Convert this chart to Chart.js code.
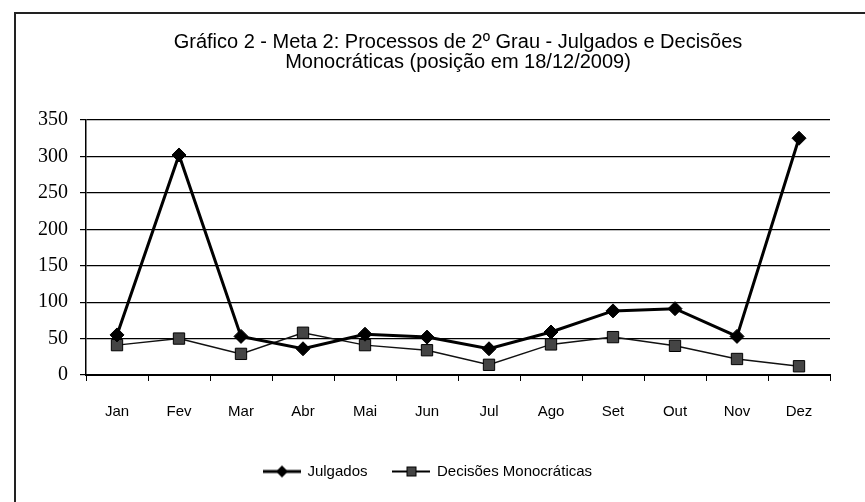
<!DOCTYPE html>
<html>
<head>
<meta charset="utf-8">
<script src="https://cdn.jsdelivr.net/npm/chart.js@4"></script>
<style>
  html, body { margin: 0; padding: 0; background: #fff; }
  #wrap { position: relative; width: 865px; height: 502px; overflow: hidden; }
  #frame { position: absolute; left: 14px; top: 12px; width: 900px; height: 600px;
           border-left: 2px solid #222; border-top: 2px solid #222; }
  canvas { position: absolute; left: 0; top: 0; }
</style>
</head>
<body>
<div id="wrap">
  <div id="frame"></div>
  <canvas id="chart" width="865" height="502"></canvas>
</div>
<script>
// Dados
const meses = ['Jan', 'Fev', 'Mar', 'Abr', 'Mai', 'Jun', 'Jul', 'Ago', 'Set', 'Out', 'Nov', 'Dez'];
const julgados = [55, 302, 53, 36, 56, 52, 36, 59, 88, 91, 53, 325];
const monocraticas = [41, 50, 29, 58, 41, 34, 14, 42, 52, 40, 22, 12];
const yTicks = [0, 50, 100, 150, 200, 250, 300, 350];

// icones da legenda: linha com marcador no meio
function legendIcon(kind) {
    const c = document.createElement('canvas');
    c.width = 38;
    c.height = 14;
    const g = c.getContext('2d');
    g.strokeStyle = '#000';
    g.lineWidth = kind === 'diamond' ? 3 : 2;
    g.beginPath();
    g.moveTo(0, 7);
    g.lineTo(38, 7);
    g.stroke();
    if (kind === 'diamond') {
        g.fillStyle = '#000';
        g.beginPath();
        g.moveTo(19, 1);
        g.lineTo(25, 7);
        g.lineTo(19, 13);
        g.lineTo(13, 7);
        g.closePath();
        g.fill();
    } else {
        g.fillStyle = '#444';
        g.fillRect(14, 2, 10, 10);
        g.strokeStyle = '#000';
        g.lineWidth = 1;
        g.strokeRect(14.5, 2.5, 9, 9);
    }
    return c;
}

const icons = [legendIcon('diamond'), legendIcon('square')];

new Chart(document.getElementById('chart'), {
    type: 'line',
    data: {
        labels: meses,
        datasets: [{
            label: 'Julgados',
            data: julgados,
            borderColor: '#000',
            backgroundColor: '#000',
            borderWidth: 3,
            pointStyle: 'rectRot',
            pointRadius: 7,
            pointBorderWidth: 1,
            tension: 0
        }, {
            label: 'Decisões Monocráticas',
            data: monocraticas,
            borderColor: '#111',
            backgroundColor: '#444',
            pointBorderColor: '#000',
            borderWidth: 1.5,
            pointStyle: 'rect',
            pointRadius: 8,
            pointBorderWidth: 1,
            tension: 0
        }]
    },
    options: {
        responsive: false,
        animation: false,
        layout: {
            padding: { top: 14, left: 26, right: 35, bottom: 13 }
        },
        plugins: {
            title: {
                display: true,
                fullSize: false,
                text: ['Gráfico 2 - Meta 2: Processos de 2º Grau - Julgados e Decisões',
                       'Monocráticas (posição em 18/12/2009)'],
                color: '#000',
                font: { family: '"Liberation Sans", Arial', size: 20, weight: 'normal', lineHeight: 1.0 },
                padding: { top: 18, bottom: 48 }
            },
            legend: {
                position: 'bottom',
                labels: {
                    usePointStyle: true,
                    pointStyleWidth: 36,
                    padding: 26,
                    color: '#000',
                    font: { family: '"Liberation Sans", Arial', size: 15 },
                    generateLabels: (chart) => chart.data.datasets.map((ds, i) => ({
                        text: ds.label,
                        pointStyle: icons[i],
                        datasetIndex: i,
                        hidden: false,
                        fontColor: '#000',
                        lineWidth: 0,
                        strokeStyle: 'transparent',
                        fillStyle: 'transparent'
                    }))
                }
            },
            tooltip: { enabled: false }
        },
        scales: {
            x: {
                offset: true,
                grid: {
                    offset: true,
                    drawOnChartArea: false,
                    drawTicks: true,
                    tickLength: 6,
                    color: '#000'
                },
                border: { color: '#000', width: 2 },
                ticks: {
                    color: '#000',
                    padding: 22,
                    font: { family: '"Liberation Sans", Arial', size: 15 }
                },
                afterFit: (scale) => { scale.height -= 5; }
            },
            y: {
                min: 0,
                max: 350,
                afterBuildTicks: (scale) => { scale.ticks = yTicks.map(v => ({ value: v })); },
                grid: {
                    color: '#000',
                    lineWidth: 1.2,
                    drawTicks: true,
                    tickLength: 6
                },
                border: { color: '#000', width: 1.5 },
                ticks: {
                    color: '#000',
                    padding: 12,
                    font: { family: '"Liberation Serif", "Times New Roman"', size: 20 }
                }
            }
        }
    }
});
</script>
</body>
</html>
